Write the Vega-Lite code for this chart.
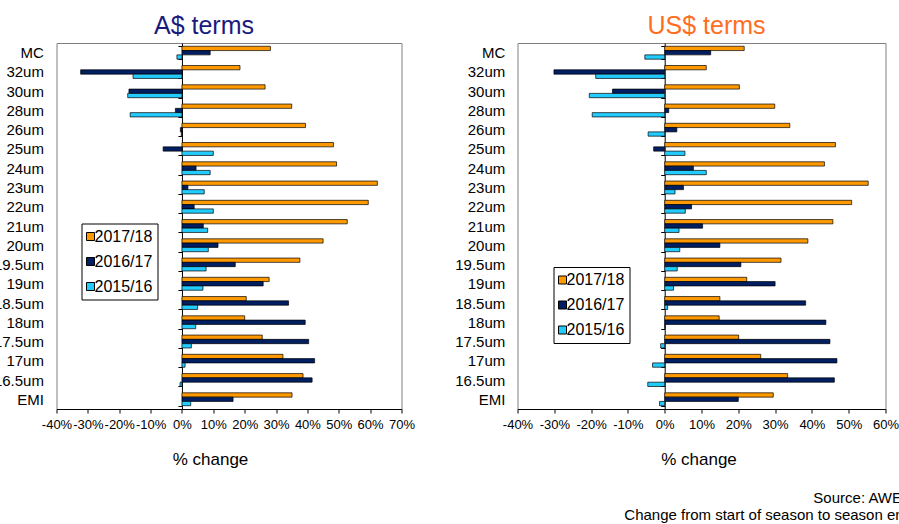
{
  "$schema": "https://vega.github.io/schema/vega-lite/v6.json",
  "padding": {"left": -7.5, "top": 13, "right": 0, "bottom": 0},
  "background": "white",
  "config": {
    "font": "Liberation Sans",
    "view": {"stroke": "#808080", "strokeWidth": 1},
    "axis": {"labelColor": "black", "titleColor": "black", "domainColor": "black", "tickColor": "black", "grid": false}
  },
  "data": {"values": [
    {"cat": "MC", "s": "2017/18", "aud": 28.2, "usd": 21.6},
    {"cat": "MC", "s": "2016/17", "aud": 9.0, "usd": 12.5},
    {"cat": "MC", "s": "2015/16", "aud": -1.6, "usd": -5.4},
    {"cat": "32um", "s": "2017/18", "aud": 18.5, "usd": 11.3},
    {"cat": "32um", "s": "2016/17", "aud": -32.3, "usd": -30.1},
    {"cat": "32um", "s": "2015/16", "aud": -15.6, "usd": -18.75},
    {"cat": "30um", "s": "2017/18", "aud": 26.5, "usd": 20.3},
    {"cat": "30um", "s": "2016/17", "aud": -16.9, "usd": -14.2},
    {"cat": "30um", "s": "2015/16", "aud": -17.3, "usd": -20.5},
    {"cat": "28um", "s": "2017/18", "aud": 35.0, "usd": 29.9},
    {"cat": "28um", "s": "2016/17", "aud": -2.1, "usd": 1.1},
    {"cat": "28um", "s": "2015/16", "aud": -16.5, "usd": -19.7},
    {"cat": "26um", "s": "2017/18", "aud": 39.4, "usd": 34.0},
    {"cat": "26um", "s": "2016/17", "aud": -0.5, "usd": 3.3},
    {"cat": "26um", "s": "2015/16", "aud": -0.2, "usd": -4.5},
    {"cat": "25um", "s": "2017/18", "aud": 48.3, "usd": 46.4},
    {"cat": "25um", "s": "2016/17", "aud": -6.0, "usd": -3.0},
    {"cat": "25um", "s": "2015/16", "aud": 10.0, "usd": 5.5},
    {"cat": "24um", "s": "2017/18", "aud": 49.3, "usd": 43.4},
    {"cat": "24um", "s": "2016/17", "aud": 4.5, "usd": 7.8},
    {"cat": "24um", "s": "2015/16", "aud": 9.0, "usd": 11.3},
    {"cat": "23um", "s": "2017/18", "aud": 62.3, "usd": 55.3},
    {"cat": "23um", "s": "2016/17", "aud": 1.9, "usd": 5.1},
    {"cat": "23um", "s": "2015/16", "aud": 7.1, "usd": 2.8},
    {"cat": "22um", "s": "2017/18", "aud": 59.4, "usd": 50.8},
    {"cat": "22um", "s": "2016/17", "aud": 3.9, "usd": 7.3},
    {"cat": "22um", "s": "2015/16", "aud": 10.0, "usd": 5.6},
    {"cat": "21um", "s": "2017/18", "aud": 52.7, "usd": 45.7},
    {"cat": "21um", "s": "2016/17", "aud": 6.8, "usd": 10.3},
    {"cat": "21um", "s": "2015/16", "aud": 8.2, "usd": 3.9},
    {"cat": "20um", "s": "2017/18", "aud": 45.0, "usd": 38.9},
    {"cat": "20um", "s": "2016/17", "aud": 11.5, "usd": 15.0},
    {"cat": "20um", "s": "2015/16", "aud": 8.4, "usd": 4.1},
    {"cat": "19.5um", "s": "2017/18", "aud": 37.6, "usd": 31.6},
    {"cat": "19.5um", "s": "2016/17", "aud": 17.0, "usd": 20.7},
    {"cat": "19.5um", "s": "2015/16", "aud": 7.7, "usd": 3.4},
    {"cat": "19um", "s": "2017/18", "aud": 27.8, "usd": 22.3},
    {"cat": "19um", "s": "2016/17", "aud": 25.9, "usd": 30.0},
    {"cat": "19um", "s": "2015/16", "aud": 6.7, "usd": 2.4},
    {"cat": "18.5um", "s": "2017/18", "aud": 20.5, "usd": 15.0},
    {"cat": "18.5um", "s": "2016/17", "aud": 34.0, "usd": 38.3},
    {"cat": "18.5um", "s": "2015/16", "aud": 5.0, "usd": 0.8},
    {"cat": "18um", "s": "2017/18", "aud": 20.0, "usd": 14.8},
    {"cat": "18um", "s": "2016/17", "aud": 39.3, "usd": 43.8},
    {"cat": "18um", "s": "2015/16", "aud": 4.4, "usd": 0.1},
    {"cat": "17.5um", "s": "2017/18", "aud": 25.6, "usd": 20.1},
    {"cat": "17.5um", "s": "2016/17", "aud": 40.4, "usd": 44.9},
    {"cat": "17.5um", "s": "2015/16", "aud": 3.0, "usd": -1.1},
    {"cat": "17um", "s": "2017/18", "aud": 32.2, "usd": 26.1},
    {"cat": "17um", "s": "2016/17", "aud": 42.3, "usd": 46.8},
    {"cat": "17um", "s": "2015/16", "aud": 1.0, "usd": -3.3},
    {"cat": "16.5um", "s": "2017/18", "aud": 38.6, "usd": 33.4},
    {"cat": "16.5um", "s": "2016/17", "aud": 41.5, "usd": 46.1},
    {"cat": "16.5um", "s": "2015/16", "aud": -0.6, "usd": -4.6},
    {"cat": "EMI", "s": "2017/18", "aud": 35.1, "usd": 29.5},
    {"cat": "EMI", "s": "2016/17", "aud": 16.3, "usd": 20.0},
    {"cat": "EMI", "s": "2015/16", "aud": 2.8, "usd": -1.4}
  ]},
  "title": {
    "text": "Source: AWEX",
    "subtitle": "Change from start of season to season end",
    "orient": "bottom",
    "anchor": "end",
    "fontSize": 15,
    "fontWeight": "normal",
    "color": "black",
    "subtitleFontSize": 15,
    "subtitleColor": "black",
    "subtitlePadding": 2,
    "offset": 22.5,
    "dx": 13
  },
  "spacing": 38,
  "resolve": {"scale": {"color": "independent", "x": "independent"}, "legend": {"color": "independent"}},
  "hconcat": [
    {
      "width": 345,
      "height": 366,
      "title": {"text": "A$ terms", "color": "#1a1a7e", "fontSize": 25, "fontWeight": "normal", "dx": -25, "offset": -2.5},
      "mark": {"type": "bar", "stroke": "#000000", "strokeWidth": 0.7},
      "encoding": {
        "y": {
          "field": "cat", "type": "nominal",
          "sort": ["MC","32um","30um","28um","26um","25um","24um","23um","22um","21um","20um","19.5um","19um","18.5um","18um","17.5um","17um","16.5um","EMI"],
          "scale": {"paddingInner": 0.33, "paddingOuter": 0.17},
          "axis": {"title": null, "orient": "left", "offset": -125.45, "domain": true, "ticks": true, "tickBand": "extent", "tickSize": 4, "labelPadding": 134.5, "labelFontSize": 15, "labelLimit": 0}
        },
        "yOffset": {"field": "s", "type": "nominal", "sort": ["2017/18","2016/17","2015/16"], "scale": {"paddingInner": 0, "paddingOuter": 0}},
        "x": {
          "field": "aud", "type": "quantitative",
          "scale": {"domain": [-40, 70], "nice": false, "zero": false},
          "axis": {"title": "% change", "values": [-40,-30,-20,-10,0,10,20,30,40,50,60,70], "labelExpr": "datum.value + '%'", "labelFontSize": 13, "labelOverlap": false, "labelFlush": false, "tickSize": 4, "labelPadding": 5, "titleFontSize": 17, "titleFontWeight": "normal", "titleX": 153.5, "titleY": 55.5, "titleBaseline": "alphabetic", "titleAlign": "center"}
        },
        "color": {
          "field": "s", "type": "nominal",
          "scale": {"domain": ["2017/18","2016/17","2015/16"], "range": ["#FF9900","#001E62","#22CCFF"]},
          "legend": {"orient": "none", "legendX": 25, "legendY": 180.5, "title": null, "direction": "vertical", "symbolType": "square", "symbolSize": 64, "symbolOffset": -4, "symbolStrokeColor": "black", "symbolStrokeWidth": 1, "symbolOpacity": 1, "labelFontSize": 16, "labelColor": "black", "labelOffset": -4, "rowPadding": 9, "padding": 5, "strokeColor": "black", "fillColor": "white"}
        }
      }
    },
    {
      "width": 368,
      "height": 366,
      "title": {"text": "US$ terms", "color": "#ff6d1f", "fontSize": 25, "fontWeight": "normal", "dx": 5, "offset": -2.5},
      "mark": {"type": "bar", "stroke": "#000000", "strokeWidth": 0.7},
      "encoding": {
        "y": {
          "field": "cat", "type": "nominal",
          "sort": ["MC","32um","30um","28um","26um","25um","24um","23um","22um","21um","20um","19.5um","19um","18.5um","18um","17.5um","17um","16.5um","EMI"],
          "scale": {"paddingInner": 0.33, "paddingOuter": 0.17},
          "axis": {"title": null, "orient": "left", "offset": -147.2, "domain": true, "ticks": true, "tickBand": "extent", "tickSize": 4, "labelPadding": 155.9, "labelFontSize": 15, "labelLimit": 0}
        },
        "yOffset": {"field": "s", "type": "nominal", "sort": ["2017/18","2016/17","2015/16"], "scale": {"paddingInner": 0, "paddingOuter": 0}},
        "x": {
          "field": "usd", "type": "quantitative",
          "scale": {"domain": [-40, 60], "nice": false, "zero": false},
          "axis": {"title": "% change", "values": [-40,-30,-20,-10,0,10,20,30,40,50,60], "labelExpr": "datum.value + '%'", "labelFontSize": 13, "labelOverlap": false, "labelFlush": false, "tickSize": 4, "labelPadding": 5, "titleFontSize": 17, "titleFontWeight": "normal", "titleX": 181, "titleY": 55.5, "titleBaseline": "alphabetic", "titleAlign": "center"}
        },
        "color": {
          "field": "s", "type": "nominal",
          "scale": {"domain": ["2017/18","2016/17","2015/16"], "range": ["#FF9900","#001E62","#22CCFF"]},
          "legend": {"orient": "none", "legendX": 36, "legendY": 224, "title": null, "direction": "vertical", "symbolType": "square", "symbolSize": 64, "symbolOffset": -4, "symbolStrokeColor": "black", "symbolStrokeWidth": 1, "symbolOpacity": 1, "labelFontSize": 16, "labelColor": "black", "labelOffset": -4, "rowPadding": 9, "padding": 5, "strokeColor": "black", "fillColor": "white"}
        }
      }
    }
  ]
}
